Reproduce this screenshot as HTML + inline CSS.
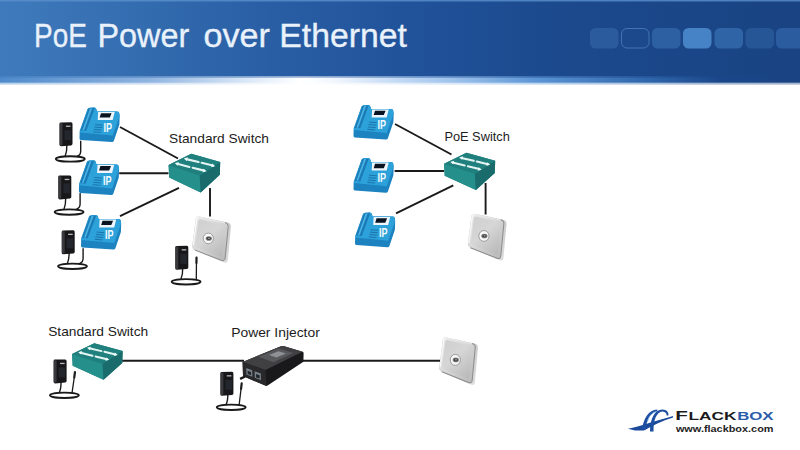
<!DOCTYPE html>
<html><head><meta charset="utf-8"><title>PoE Power over Ethernet</title>
<style>
html,body{margin:0;padding:0;background:#fff;}
body{width:800px;height:450px;overflow:hidden;position:relative;font-family:"Liberation Sans",sans-serif;}
svg{position:absolute;left:0;top:0;display:block;}
</style></head><body>
<svg width="800" height="450" viewBox="0 0 800 450">
<defs>
<linearGradient id="hg" x1="0" y1="0" x2="1" y2="0">
<stop offset="0" stop-color="#3f7bbc"/><stop offset="0.34" stop-color="#295ea4"/><stop offset="0.5" stop-color="#21539b"/><stop offset="0.68" stop-color="#1c4a8e"/><stop offset="1" stop-color="#194382"/>
</linearGradient>
<linearGradient id="hb" x1="0" y1="0" x2="1" y2="0">
<stop offset="0" stop-color="#4e8acb"/><stop offset="0.1875" stop-color="#8fb4e0"/><stop offset="0.3125" stop-color="#dce9f8"/><stop offset="0.375" stop-color="#ffffff"/><stop offset="0.4125" stop-color="#f4f8fe"/><stop offset="0.5" stop-color="#c0d8f4"/><stop offset="0.5625" stop-color="#a0c4ec"/><stop offset="0.67" stop-color="#5b95d5"/><stop offset="0.81" stop-color="#2f66ac"/><stop offset="0.9" stop-color="#1b478a"/><stop offset="1" stop-color="#194382"/>
</linearGradient>
<linearGradient id="hbv" x1="0" y1="0" x2="0" y2="1">
<stop offset="0" stop-color="#fff" stop-opacity="0"/><stop offset="1" stop-color="#fff" stop-opacity="1"/>
</linearGradient>
<linearGradient id="hbt" x1="0" y1="0" x2="0" y2="1">
<stop offset="0" stop-color="#fff"/><stop offset="1" stop-color="#000"/>
</linearGradient>
<mask id="mt" maskUnits="userSpaceOnUse" x="0" y="76.5" width="800" height="1.6"><rect x="0" y="76.5" width="800" height="1.6" fill="url(#hbt)"/></mask>
<linearGradient id="apg" x1="0" y1="0" x2="1" y2="1">
<stop offset="0" stop-color="#ececec"/><stop offset="0.45" stop-color="#d8d8d8"/><stop offset="1" stop-color="#b6b6b6"/>
</linearGradient>
<linearGradient id="api" x1="0.2" y1="0" x2="0.9" y2="1">
<stop offset="0" stop-color="#d0d0d0"/><stop offset="0.4" stop-color="#d6d6d6"/><stop offset="1" stop-color="#b8b8b8"/>
</linearGradient>
<linearGradient id="aps" x1="0" y1="0" x2="1" y2="1">
<stop offset="0" stop-color="#c8c8c8"/><stop offset="0.6" stop-color="#cdcdcd"/><stop offset="1" stop-color="#dedede"/>
</linearGradient>
</defs>
<rect x="0" y="0" width="800" height="450" fill="#ffffff"/>
<rect x="0" y="0" width="800" height="77.5" fill="url(#hg)"/>
<rect x="0" y="0" width="800" height="1.5" fill="#5a90cc" opacity="0.8"/>
<rect x="0" y="76.5" width="800" height="8" fill="url(#hb)"/>
<rect x="0" y="76.5" width="800" height="1.6" fill="url(#hg)" mask="url(#mt)"/>
<rect x="0" y="82" width="800" height="2.5" fill="url(#hbv)"/>
<rect x="590" y="28" width="28.5" height="20.5" rx="5.5" fill="#2b5b9c"/>
<rect x="621.5" y="28.5" width="27.5" height="19.5" rx="5.5" fill="#1c498b" stroke="#4174b6" stroke-width="1"/>
<rect x="652" y="28" width="28.5" height="20.5" rx="5.5" fill="#2d60a3"/>
<rect x="683" y="28" width="28.5" height="20.5" rx="5.5" fill="#4683c6"/>
<rect x="714.5" y="28" width="28.5" height="20.5" rx="5.5" fill="#2f64a7"/>
<rect x="745.5" y="28" width="28.5" height="20.5" rx="5.5" fill="#275697"/>
<rect x="776" y="28" width="28.5" height="20.5" rx="5.5" fill="#2b5c9f"/>

<text y="47" font-family="'Liberation Sans',sans-serif" font-size="33.5" fill="#e9f1fb" stroke="#e9f1fb" stroke-width="0.35"><tspan x="34.03" textLength="52.79" lengthAdjust="spacingAndGlyphs">PoE</tspan> <tspan x="97.47" textLength="91.83" lengthAdjust="spacingAndGlyphs">Power</tspan> <tspan x="203.53" textLength="66.43" lengthAdjust="spacingAndGlyphs">over</tspan> <tspan x="279.3" textLength="127.61" lengthAdjust="spacingAndGlyphs">Ethernet</tspan></text>

<g stroke="#1a1a1a" stroke-width="1.9" fill="none">
<path d="M120,127 L178,158.5"/>
<path d="M119.2,173.2 L168.5,173.2"/>
<path d="M120,216.1 L179,187.8"/>
<path d="M210,188 L210,216.5"/>
<path d="M395,124 L451.5,154.5"/>
<path d="M394.6,171 L444,171"/>
<path d="M396,213.4 L453.3,185.4"/>
<path d="M485.6,183 L485.6,214.5"/>
<path d="M122,360.8 L244,360.8"/>
<path d="M303,360.8 L440.5,360.8"/>
</g>

<g transform="translate(59.5,122.2)" fill="none" stroke-linecap="round">
<ellipse cx="10.8" cy="36.7" rx="14.4" ry="2.7" stroke="#1a1a1a" stroke-width="1.9"/>
<path d="M7.4,22 Q7.6,29 5.6,34.1" stroke="#1a1a1a" stroke-width="1.4"/>
<path d="M18,33.900000000000006 Q21.2,32.7 21.2,28.700000000000003 L21.2,19" stroke="#1a1a1a" stroke-width="1.4"/>
<path d="M1.4,0.2 L11.6,0 Q13,0 13,1.6 L13,21.6 Q13,23 11.6,23.2 L1.6,24 Q0,24 0,22.4 L0,1.6 Q0,0.2 1.4,0.2 Z" fill="#17171a" stroke="none"/>
<rect x="0.2" y="0.8" width="2.8" height="22.4" rx="1" fill="#3a3a3e" stroke="none"/>
<rect x="6.4" y="3.4" width="4.6" height="1.3" fill="#b8b8bc" stroke="none"/>
<rect x="5" y="8" width="6.5" height="10" fill="#23262c" stroke="none"/>
</g>
<g transform="translate(58.3,175.4)" fill="none" stroke-linecap="round">
<ellipse cx="10.8" cy="36.7" rx="14.4" ry="2.7" stroke="#1a1a1a" stroke-width="1.9"/>
<path d="M7.4,22 Q7.6,29 5.6,34.1" stroke="#1a1a1a" stroke-width="1.4"/>
<path d="M18,33.900000000000006 Q21.8,32.7 21.8,28.700000000000003 L21.8,18" stroke="#1a1a1a" stroke-width="1.4"/>
<path d="M1.4,0.2 L11.6,0 Q13,0 13,1.6 L13,21.6 Q13,23 11.6,23.2 L1.6,24 Q0,24 0,22.4 L0,1.6 Q0,0.2 1.4,0.2 Z" fill="#17171a" stroke="none"/>
<rect x="0.2" y="0.8" width="2.8" height="22.4" rx="1" fill="#3a3a3e" stroke="none"/>
<rect x="6.4" y="3.4" width="4.6" height="1.3" fill="#b8b8bc" stroke="none"/>
<rect x="5" y="8" width="6.5" height="10" fill="#23262c" stroke="none"/>
</g>
<g transform="translate(61.7,230.3)" fill="none" stroke-linecap="round">
<ellipse cx="10.8" cy="36" rx="14.4" ry="2.7" stroke="#1a1a1a" stroke-width="1.9"/>
<path d="M7.4,22 Q7.6,29 5.6,33.4" stroke="#1a1a1a" stroke-width="1.4"/>
<path d="M18,33.2 Q21.4,32 21.4,28 L21.4,18.5" stroke="#1a1a1a" stroke-width="1.4"/>
<path d="M1.4,0.2 L11.6,0 Q13,0 13,1.6 L13,21.6 Q13,23 11.6,23.2 L1.6,24 Q0,24 0,22.4 L0,1.6 Q0,0.2 1.4,0.2 Z" fill="#17171a" stroke="none"/>
<rect x="0.2" y="0.8" width="2.8" height="22.4" rx="1" fill="#3a3a3e" stroke="none"/>
<rect x="6.4" y="3.4" width="4.6" height="1.3" fill="#b8b8bc" stroke="none"/>
<rect x="5" y="8" width="6.5" height="10" fill="#23262c" stroke="none"/>
</g>
<g transform="translate(78.5,106.8)">
<path d="M9,2.4 Q9.6,0.9 11.4,0.9 L15.8,0.6 Q17.4,0.7 17.9,2.4 L18.6,4.7 L39,4.7 Q40.4,4.8 40.7,6.2 L41.2,9 L40.9,17.8 L35.4,34 Q34.8,35.5 33.2,35.3 L2.4,33.2 Q1,33 1,31.6 L1.2,24 Z" fill="#1c83c0"/>
<path d="M9,2.4 Q9.6,0.9 11.4,0.9 L15.8,0.6 Q17.4,0.7 17.9,2.4 L18.6,4.7 L39,4.7 Q40.4,4.8 40.7,6.2 L41,9.4 L34.2,28.8 L1.3,25.6 Z" fill="#2da1d9"/>
<path d="M10,1.7 L16.2,1.3 L7.8,24 L2.2,23.4 Z" fill="#1a7ab6"/>
<path d="M11.6,1.7 L13.6,1.6 L5.6,23.4 L4,23.2 Z" fill="#49b3e4"/>
<path d="M19.6,5.2 L36.2,5.2 L34.2,13.2 L19.2,13.2 Z" fill="#eef6fb"/>
<path d="M22.5,6.4 L33.1,6.4 L31.3,10.8 L21.2,10.8 Z" fill="#0a1420"/>
<g stroke="#1a6ea6" stroke-width="0.9"><path d="M16.6,17.8 L24.4,18.4 M16,20.2 L23.8,20.8 M15.4,22.6 L23.2,23.2 M14.8,25 L22.6,25.6"/></g>
<text x="25" y="24.9" font-family="'Liberation Sans',sans-serif" font-weight="bold" font-size="13.7" fill="#f4fbff" transform="translate(25,0) scale(0.66,1) translate(-25,0)">IP</text>
</g>
<g transform="translate(77.9,159.7)">
<path d="M9,2.4 Q9.6,0.9 11.4,0.9 L15.8,0.6 Q17.4,0.7 17.9,2.4 L18.6,4.7 L39,4.7 Q40.4,4.8 40.7,6.2 L41.2,9 L40.9,17.8 L35.4,34 Q34.8,35.5 33.2,35.3 L2.4,33.2 Q1,33 1,31.6 L1.2,24 Z" fill="#1c83c0"/>
<path d="M9,2.4 Q9.6,0.9 11.4,0.9 L15.8,0.6 Q17.4,0.7 17.9,2.4 L18.6,4.7 L39,4.7 Q40.4,4.8 40.7,6.2 L41,9.4 L34.2,28.8 L1.3,25.6 Z" fill="#2da1d9"/>
<path d="M10,1.7 L16.2,1.3 L7.8,24 L2.2,23.4 Z" fill="#1a7ab6"/>
<path d="M11.6,1.7 L13.6,1.6 L5.6,23.4 L4,23.2 Z" fill="#49b3e4"/>
<path d="M19.6,5.2 L36.2,5.2 L34.2,13.2 L19.2,13.2 Z" fill="#eef6fb"/>
<path d="M22.5,6.4 L33.1,6.4 L31.3,10.8 L21.2,10.8 Z" fill="#0a1420"/>
<g stroke="#1a6ea6" stroke-width="0.9"><path d="M16.6,17.8 L24.4,18.4 M16,20.2 L23.8,20.8 M15.4,22.6 L23.2,23.2 M14.8,25 L22.6,25.6"/></g>
<text x="25" y="24.9" font-family="'Liberation Sans',sans-serif" font-weight="bold" font-size="13.7" fill="#f4fbff" transform="translate(25,0) scale(0.66,1) translate(-25,0)">IP</text>
</g>
<g transform="translate(80,214.3)">
<path d="M9,2.4 Q9.6,0.9 11.4,0.9 L15.8,0.6 Q17.4,0.7 17.9,2.4 L18.6,4.7 L39,4.7 Q40.4,4.8 40.7,6.2 L41.2,9 L40.9,17.8 L35.4,34 Q34.8,35.5 33.2,35.3 L2.4,33.2 Q1,33 1,31.6 L1.2,24 Z" fill="#1c83c0"/>
<path d="M9,2.4 Q9.6,0.9 11.4,0.9 L15.8,0.6 Q17.4,0.7 17.9,2.4 L18.6,4.7 L39,4.7 Q40.4,4.8 40.7,6.2 L41,9.4 L34.2,28.8 L1.3,25.6 Z" fill="#2da1d9"/>
<path d="M10,1.7 L16.2,1.3 L7.8,24 L2.2,23.4 Z" fill="#1a7ab6"/>
<path d="M11.6,1.7 L13.6,1.6 L5.6,23.4 L4,23.2 Z" fill="#49b3e4"/>
<path d="M19.6,5.2 L36.2,5.2 L34.2,13.2 L19.2,13.2 Z" fill="#eef6fb"/>
<path d="M22.5,6.4 L33.1,6.4 L31.3,10.8 L21.2,10.8 Z" fill="#0a1420"/>
<g stroke="#1a6ea6" stroke-width="0.9"><path d="M16.6,17.8 L24.4,18.4 M16,20.2 L23.8,20.8 M15.4,22.6 L23.2,23.2 M14.8,25 L22.6,25.6"/></g>
<text x="25" y="24.9" font-family="'Liberation Sans',sans-serif" font-weight="bold" font-size="13.7" fill="#f4fbff" transform="translate(25,0) scale(0.66,1) translate(-25,0)">IP</text>
</g>
<g transform="translate(168.2,153.7) scale(1.0,1.02)">
<path d="M0.4,11.2 L23,0 L52,8.1 L51.6,20.6 L32.5,38 L1,23.4 Z" fill="#1f7f7e"/>
<path d="M0.4,11.2 L31.5,21.4 L32.5,38 L1,23.4 Z" fill="#258f8c"/>
<path d="M31.5,21.4 L52,8.1 L51.6,20.6 L32.5,38 Z" fill="#1a6c6c"/>
<path d="M0.4,11.2 L23,0 L52,8.1 L31.5,21.4 Z" fill="#1f807e"/>
<g stroke="#e4f4f3" stroke-width="2.1" stroke-linecap="round" fill="none">
<path d="M18,5.3 L30.4,8.2"/><path d="M33.4,8.9 L44.6,11.6"/>
<path d="M9,9.9 L21.2,13"/><path d="M24.4,13.8 L36,16.6"/>
</g>
<g fill="#eef9f8">
<path d="M15.6,4.7 L19.6,3.6 L18.6,7.2 Z"/><path d="M47,12.2 L43,13.3 L44,9.7 Z"/>
<path d="M6.6,9.3 L10.6,8.2 L9.6,11.8 Z"/><path d="M38.4,17.2 L34.4,18.3 L35.4,14.7 Z"/>
</g>
</g>
<g transform="translate(175.3,245.8)" fill="none" stroke-linecap="round">
<ellipse cx="10.8" cy="36" rx="14.4" ry="2.7" stroke="#1a1a1a" stroke-width="1.9"/>
<path d="M7.4,22 Q7.6,29 5.6,33.4" stroke="#1a1a1a" stroke-width="1.4"/>
<path d="M21,33 L21.144,17.8" stroke="#1a1a1a" stroke-width="1.3"/><path d="M21.148,17.3 L21.2,11.8" stroke="#1c1c1c" stroke-width="2.2"/>
<path d="M1.4,0.2 L11.6,0 Q13,0 13,1.6 L13,21.6 Q13,23 11.6,23.2 L1.6,24 Q0,24 0,22.4 L0,1.6 Q0,0.2 1.4,0.2 Z" fill="#17171a" stroke="none"/>
<rect x="0.2" y="0.8" width="2.8" height="22.4" rx="1" fill="#3a3a3e" stroke="none"/>
<rect x="6.4" y="3.4" width="4.6" height="1.3" fill="#b8b8bc" stroke="none"/>
<rect x="5" y="8" width="6.5" height="10" fill="#23262c" stroke="none"/>
</g>
<g transform="translate(192,216) scale(1,1)">
<path d="M7.4,0.6 Q4.2,0.2 3.8,3.2 L0.3,29.6 Q0,32.8 2.8,34 L31.6,46.2 Q35.4,47.8 35.9,43.8 L38.9,11 Q39.2,7.2 35.6,6.5 Z" fill="url(#aps)"/>
<path d="M7.4,0.6 Q4.2,0.2 3.8,3.2 L0.3,29.6 Q0,32.8 2.8,34 L29.4,44.4 Q32.8,45.6 33.2,42.2 L36.2,10.8 Q36.6,7.2 33,6.4 Z" fill="url(#apg)"/>
<path d="M2.8,34 L29.4,44.4 Q32.8,45.6 33.2,42.2 L36.2,10.8 Q36.6,7.2 33,6.4" fill="none" stroke="#8c8c8c" stroke-width="1"/>
<path d="M8.6,3.4 Q6.6,3.2 6.3,5 L3.4,28.6 Q3.2,30.6 5,31.4 L28,40.6 Q30,41.4 30.3,39.2 L33,11.8 Q33.2,9.6 31,9 Z" fill="url(#api)"/>
<path d="M7.4,1.3 Q5,1.1 4.7,3.4 L1.3,29.4" fill="none" stroke="#fbfbfb" stroke-width="1.2" opacity="0.9"/>
<path d="M7.4,1.2 L33,7" fill="none" stroke="#f0f0f0" stroke-width="0.9" opacity="0.7"/>
<ellipse cx="16.3" cy="22.4" rx="5.1" ry="5.3" fill="#f8f8f8" stroke="#8a8a8a" stroke-width="0.8"/>
<ellipse cx="16.8" cy="22.5" rx="3.1" ry="2.3" fill="#808080"/>
<ellipse cx="16.8" cy="22.5" rx="2.2" ry="1.4" fill="#404040"/>
<ellipse cx="17" cy="22.3" rx="0.9" ry="0.5" fill="#d0d0d0"/>
</g>
<g transform="translate(352.5,104.3)">
<path d="M9,2.4 Q9.6,0.9 11.4,0.9 L15.8,0.6 Q17.4,0.7 17.9,2.4 L18.6,4.7 L39,4.7 Q40.4,4.8 40.7,6.2 L41.2,9 L40.9,17.8 L35.4,34 Q34.8,35.5 33.2,35.3 L2.4,33.2 Q1,33 1,31.6 L1.2,24 Z" fill="#1c83c0"/>
<path d="M9,2.4 Q9.6,0.9 11.4,0.9 L15.8,0.6 Q17.4,0.7 17.9,2.4 L18.6,4.7 L39,4.7 Q40.4,4.8 40.7,6.2 L41,9.4 L34.2,28.8 L1.3,25.6 Z" fill="#2da1d9"/>
<path d="M10,1.7 L16.2,1.3 L7.8,24 L2.2,23.4 Z" fill="#1a7ab6"/>
<path d="M11.6,1.7 L13.6,1.6 L5.6,23.4 L4,23.2 Z" fill="#49b3e4"/>
<path d="M19.6,5.2 L36.2,5.2 L34.2,13.2 L19.2,13.2 Z" fill="#eef6fb"/>
<path d="M22.5,6.4 L33.1,6.4 L31.3,10.8 L21.2,10.8 Z" fill="#0a1420"/>
<g stroke="#1a6ea6" stroke-width="0.9"><path d="M16.6,17.8 L24.4,18.4 M16,20.2 L23.8,20.8 M15.4,22.6 L23.2,23.2 M14.8,25 L22.6,25.6"/></g>
<text x="25" y="24.9" font-family="'Liberation Sans',sans-serif" font-weight="bold" font-size="13.7" fill="#f4fbff" transform="translate(25,0) scale(0.66,1) translate(-25,0)">IP</text>
</g>
<g transform="translate(352.5,157.4)">
<path d="M9,2.4 Q9.6,0.9 11.4,0.9 L15.8,0.6 Q17.4,0.7 17.9,2.4 L18.6,4.7 L39,4.7 Q40.4,4.8 40.7,6.2 L41.2,9 L40.9,17.8 L35.4,34 Q34.8,35.5 33.2,35.3 L2.4,33.2 Q1,33 1,31.6 L1.2,24 Z" fill="#1c83c0"/>
<path d="M9,2.4 Q9.6,0.9 11.4,0.9 L15.8,0.6 Q17.4,0.7 17.9,2.4 L18.6,4.7 L39,4.7 Q40.4,4.8 40.7,6.2 L41,9.4 L34.2,28.8 L1.3,25.6 Z" fill="#2da1d9"/>
<path d="M10,1.7 L16.2,1.3 L7.8,24 L2.2,23.4 Z" fill="#1a7ab6"/>
<path d="M11.6,1.7 L13.6,1.6 L5.6,23.4 L4,23.2 Z" fill="#49b3e4"/>
<path d="M19.6,5.2 L36.2,5.2 L34.2,13.2 L19.2,13.2 Z" fill="#eef6fb"/>
<path d="M22.5,6.4 L33.1,6.4 L31.3,10.8 L21.2,10.8 Z" fill="#0a1420"/>
<g stroke="#1a6ea6" stroke-width="0.9"><path d="M16.6,17.8 L24.4,18.4 M16,20.2 L23.8,20.8 M15.4,22.6 L23.2,23.2 M14.8,25 L22.6,25.6"/></g>
<text x="25" y="24.9" font-family="'Liberation Sans',sans-serif" font-weight="bold" font-size="13.7" fill="#f4fbff" transform="translate(25,0) scale(0.66,1) translate(-25,0)">IP</text>
</g>
<g transform="translate(354,211.9)">
<path d="M9,2.4 Q9.6,0.9 11.4,0.9 L15.8,0.6 Q17.4,0.7 17.9,2.4 L18.6,4.7 L39,4.7 Q40.4,4.8 40.7,6.2 L41.2,9 L40.9,17.8 L35.4,34 Q34.8,35.5 33.2,35.3 L2.4,33.2 Q1,33 1,31.6 L1.2,24 Z" fill="#1c83c0"/>
<path d="M9,2.4 Q9.6,0.9 11.4,0.9 L15.8,0.6 Q17.4,0.7 17.9,2.4 L18.6,4.7 L39,4.7 Q40.4,4.8 40.7,6.2 L41,9.4 L34.2,28.8 L1.3,25.6 Z" fill="#2da1d9"/>
<path d="M10,1.7 L16.2,1.3 L7.8,24 L2.2,23.4 Z" fill="#1a7ab6"/>
<path d="M11.6,1.7 L13.6,1.6 L5.6,23.4 L4,23.2 Z" fill="#49b3e4"/>
<path d="M19.6,5.2 L36.2,5.2 L34.2,13.2 L19.2,13.2 Z" fill="#eef6fb"/>
<path d="M22.5,6.4 L33.1,6.4 L31.3,10.8 L21.2,10.8 Z" fill="#0a1420"/>
<g stroke="#1a6ea6" stroke-width="0.9"><path d="M16.6,17.8 L24.4,18.4 M16,20.2 L23.8,20.8 M15.4,22.6 L23.2,23.2 M14.8,25 L22.6,25.6"/></g>
<text x="25" y="24.9" font-family="'Liberation Sans',sans-serif" font-weight="bold" font-size="13.7" fill="#f4fbff" transform="translate(25,0) scale(0.66,1) translate(-25,0)">IP</text>
</g>
<g transform="translate(443.7,152.8) scale(0.99,0.98)">
<path d="M0.4,11.2 L23,0 L52,8.1 L51.6,20.6 L32.5,38 L1,23.4 Z" fill="#1f7f7e"/>
<path d="M0.4,11.2 L31.5,21.4 L32.5,38 L1,23.4 Z" fill="#258f8c"/>
<path d="M31.5,21.4 L52,8.1 L51.6,20.6 L32.5,38 Z" fill="#1a6c6c"/>
<path d="M0.4,11.2 L23,0 L52,8.1 L31.5,21.4 Z" fill="#1f807e"/>
<g stroke="#e4f4f3" stroke-width="2.1" stroke-linecap="round" fill="none">
<path d="M18,5.3 L30.4,8.2"/><path d="M33.4,8.9 L44.6,11.6"/>
<path d="M9,9.9 L21.2,13"/><path d="M24.4,13.8 L36,16.6"/>
</g>
<g fill="#eef9f8">
<path d="M15.6,4.7 L19.6,3.6 L18.6,7.2 Z"/><path d="M47,12.2 L43,13.3 L44,9.7 Z"/>
<path d="M6.6,9.3 L10.6,8.2 L9.6,11.8 Z"/><path d="M38.4,17.2 L34.4,18.3 L35.4,14.7 Z"/>
</g>
</g>
<g transform="translate(467.6,213.2) scale(1,1.015)">
<path d="M7.4,0.6 Q4.2,0.2 3.8,3.2 L0.3,29.6 Q0,32.8 2.8,34 L31.6,46.2 Q35.4,47.8 35.9,43.8 L38.9,11 Q39.2,7.2 35.6,6.5 Z" fill="url(#aps)"/>
<path d="M7.4,0.6 Q4.2,0.2 3.8,3.2 L0.3,29.6 Q0,32.8 2.8,34 L29.4,44.4 Q32.8,45.6 33.2,42.2 L36.2,10.8 Q36.6,7.2 33,6.4 Z" fill="url(#apg)"/>
<path d="M2.8,34 L29.4,44.4 Q32.8,45.6 33.2,42.2 L36.2,10.8 Q36.6,7.2 33,6.4" fill="none" stroke="#8c8c8c" stroke-width="1"/>
<path d="M8.6,3.4 Q6.6,3.2 6.3,5 L3.4,28.6 Q3.2,30.6 5,31.4 L28,40.6 Q30,41.4 30.3,39.2 L33,11.8 Q33.2,9.6 31,9 Z" fill="url(#api)"/>
<path d="M7.4,1.3 Q5,1.1 4.7,3.4 L1.3,29.4" fill="none" stroke="#fbfbfb" stroke-width="1.2" opacity="0.9"/>
<path d="M7.4,1.2 L33,7" fill="none" stroke="#f0f0f0" stroke-width="0.9" opacity="0.7"/>
<ellipse cx="16.3" cy="22.4" rx="5.1" ry="5.3" fill="#f8f8f8" stroke="#8a8a8a" stroke-width="0.8"/>
<ellipse cx="16.8" cy="22.5" rx="3.1" ry="2.3" fill="#808080"/>
<ellipse cx="16.8" cy="22.5" rx="2.2" ry="1.4" fill="#404040"/>
<ellipse cx="17" cy="22.3" rx="0.9" ry="0.5" fill="#d0d0d0"/>
</g>
<g transform="translate(53.6,359.4)" fill="none" stroke-linecap="round">
<ellipse cx="10.8" cy="35.9" rx="14.4" ry="2.7" stroke="#1a1a1a" stroke-width="1.9"/>
<path d="M7.4,22 Q7.6,29 5.6,33.3" stroke="#1a1a1a" stroke-width="1.4"/>
<path d="M18.5,32.9 L20.587999999999997,18.6" stroke="#1a1a1a" stroke-width="1.3"/><path d="M20.645999999999997,18.1 L21.4,12.6" stroke="#1c1c1c" stroke-width="2.2"/>
<path d="M1.4,0.2 L11.6,0 Q13,0 13,1.6 L13,21.6 Q13,23 11.6,23.2 L1.6,24 Q0,24 0,22.4 L0,1.6 Q0,0.2 1.4,0.2 Z" fill="#17171a" stroke="none"/>
<rect x="0.2" y="0.8" width="2.8" height="22.4" rx="1" fill="#3a3a3e" stroke="none"/>
<rect x="6.4" y="3.4" width="4.6" height="1.3" fill="#b8b8bc" stroke="none"/>
<rect x="5" y="8" width="6.5" height="10" fill="#23262c" stroke="none"/>
</g>
<g transform="translate(71.7,343.2) scale(0.98,0.965)">
<path d="M0.4,11.2 L23,0 L52,8.1 L51.6,20.6 L32.5,38 L1,23.4 Z" fill="#1f7f7e"/>
<path d="M0.4,11.2 L31.5,21.4 L32.5,38 L1,23.4 Z" fill="#258f8c"/>
<path d="M31.5,21.4 L52,8.1 L51.6,20.6 L32.5,38 Z" fill="#1a6c6c"/>
<path d="M0.4,11.2 L23,0 L52,8.1 L31.5,21.4 Z" fill="#1f807e"/>
<g stroke="#e4f4f3" stroke-width="2.1" stroke-linecap="round" fill="none">
<path d="M18,5.3 L30.4,8.2"/><path d="M33.4,8.9 L44.6,11.6"/>
<path d="M9,9.9 L21.2,13"/><path d="M24.4,13.8 L36,16.6"/>
</g>
<g fill="#eef9f8">
<path d="M15.6,4.7 L19.6,3.6 L18.6,7.2 Z"/><path d="M47,12.2 L43,13.3 L44,9.7 Z"/>
<path d="M6.6,9.3 L10.6,8.2 L9.6,11.8 Z"/><path d="M38.4,17.2 L34.4,18.3 L35.4,14.7 Z"/>
</g>
</g>
<g transform="translate(220.4,371.8)" fill="none" stroke-linecap="round">
<ellipse cx="10.8" cy="35.5" rx="14.4" ry="2.7" stroke="#1a1a1a" stroke-width="1.9"/>
<path d="M7.4,22 Q7.6,29 5.6,32.9" stroke="#1a1a1a" stroke-width="1.4"/>
<path d="M18.8,32.5 L20.6,17.5" stroke="#1a1a1a" stroke-width="1.3"/><path d="M20.650000000000002,17.0 L21.3,11.5" stroke="#1c1c1c" stroke-width="2.2"/>
<path d="M1.4,0.2 L11.6,0 Q13,0 13,1.6 L13,21.6 Q13,23 11.6,23.2 L1.6,24 Q0,24 0,22.4 L0,1.6 Q0,0.2 1.4,0.2 Z" fill="#17171a" stroke="none"/>
<rect x="0.2" y="0.8" width="2.8" height="22.4" rx="1" fill="#3a3a3e" stroke="none"/>
<rect x="6.4" y="3.4" width="4.6" height="1.3" fill="#b8b8bc" stroke="none"/>
<rect x="5" y="8" width="6.5" height="10" fill="#23262c" stroke="none"/>
</g>
<g transform="translate(243,346.6)">
<path d="M-0.4,15.4 L38,-0.4 Q39.2,-0.9 40.4,-0.5 L59.6,5.2 Q60.6,5.6 60.6,6.6 L60.4,15.2 L24.6,38.8 Q23.4,39.6 22.2,39 L1,30 Q0,29.6 0,28.6 Z" fill="#19191b"/>
<path d="M-0.4,15.4 L38,-0.4 Q39.2,-0.9 40.4,-0.5 L59.6,5.2 L22.4,23.4 Z" fill="#404043"/>
<path d="M-0.4,15.4 L22.4,23.4 L23.4,39.4 Q22.8,39.4 22.2,39 L1,30 Q0,29.6 0,28.6 Z" fill="#29292b"/>
<path d="M15.6,10.2 L35.4,2 L50.6,6.4 L30.4,15.6 Z" fill="#58595d"/>
<path d="M26,8.4 L35.4,4.6 L43,6.8 L33.4,11 Z" fill="#8e9196"/>
<path d="M3.2,21.4 L9.2,23.6 L9.4,30.2 L3.4,27.8 Z" fill="#76818a"/>
<path d="M11.6,24.6 L17.8,26.8 L18,33.6 L11.8,31.2 Z" fill="#76818a"/>
<path d="M4.6,24.2 L8,25.4 L8.1,28.6 L4.7,27.4 Z" fill="#23262a"/>
<path d="M13,27.4 L16.6,28.6 L16.7,32 L13.1,30.8 Z" fill="#23262a"/>
<path d="M-3.4,31.2 L1.6,29 L2.6,31 L-2.4,33.4 Z" fill="#1a1a1c"/>
</g>
<g transform="translate(439,336.8) scale(1,1.03)">
<path d="M7.4,0.6 Q4.2,0.2 3.8,3.2 L0.3,29.6 Q0,32.8 2.8,34 L31.6,46.2 Q35.4,47.8 35.9,43.8 L38.9,11 Q39.2,7.2 35.6,6.5 Z" fill="url(#aps)"/>
<path d="M7.4,0.6 Q4.2,0.2 3.8,3.2 L0.3,29.6 Q0,32.8 2.8,34 L29.4,44.4 Q32.8,45.6 33.2,42.2 L36.2,10.8 Q36.6,7.2 33,6.4 Z" fill="url(#apg)"/>
<path d="M2.8,34 L29.4,44.4 Q32.8,45.6 33.2,42.2 L36.2,10.8 Q36.6,7.2 33,6.4" fill="none" stroke="#8c8c8c" stroke-width="1"/>
<path d="M8.6,3.4 Q6.6,3.2 6.3,5 L3.4,28.6 Q3.2,30.6 5,31.4 L28,40.6 Q30,41.4 30.3,39.2 L33,11.8 Q33.2,9.6 31,9 Z" fill="url(#api)"/>
<path d="M7.4,1.3 Q5,1.1 4.7,3.4 L1.3,29.4" fill="none" stroke="#fbfbfb" stroke-width="1.2" opacity="0.9"/>
<path d="M7.4,1.2 L33,7" fill="none" stroke="#f0f0f0" stroke-width="0.9" opacity="0.7"/>
<ellipse cx="16.3" cy="22.4" rx="5.1" ry="5.3" fill="#f8f8f8" stroke="#8a8a8a" stroke-width="0.8"/>
<ellipse cx="16.8" cy="22.5" rx="3.1" ry="2.3" fill="#808080"/>
<ellipse cx="16.8" cy="22.5" rx="2.2" ry="1.4" fill="#404040"/>
<ellipse cx="17" cy="22.3" rx="0.9" ry="0.5" fill="#d0d0d0"/>
</g>
<g font-family="'Liberation Sans',sans-serif" font-size="13.5" fill="#1c1c1c">
<text x="169" y="143" textLength="100" lengthAdjust="spacingAndGlyphs">Standard Switch</text>
<text x="444.4" y="141.1" textLength="65.4" lengthAdjust="spacingAndGlyphs">PoE Switch</text>
<text x="48.2" y="335.5" textLength="100" lengthAdjust="spacingAndGlyphs">Standard Switch</text>
<text x="231.2" y="336.7" textLength="88.6" lengthAdjust="spacingAndGlyphs">Power Injector</text>
</g>
<!-- logo -->
<g>
<path d="M628,428.8 C640,426.4 655,421 673,416 L673,417.6 C662,421 652,426 644,430.6 L635,430.4 Z" fill="#1b4a9c"/>
<path d="M642,429.4 L645.6,429.4 C646.6,420 650,412.6 657.4,411.2 L657.2,409.6 C648.6,409.8 643.6,418.6 642,429.4 Z" fill="#1d4fa2"/>
<path d="M650,431.6 L653.6,431.6 C653.2,420.6 656.4,411.8 662.4,411.4 C665.6,411.6 667,413.6 666.6,415.6 L668.4,415.4 C669,412 666.6,409.6 662.4,409.4 C654.4,409.6 650,419 650,431.6 Z" fill="#1d4fa2"/>
<path d="M647.4,422 C648.6,416.4 652,412.4 656,411.8" fill="none" stroke="#7fb0e6" stroke-width="0.8"/>
</g>
<text x="675.2" y="419.9" font-family="'Liberation Sans',sans-serif" font-weight="bold" font-size="10" fill="#1b1b1b"><tspan font-size="13" textLength="12.6" lengthAdjust="spacingAndGlyphs">F</tspan><tspan x="688.4" textLength="48" lengthAdjust="spacingAndGlyphs">LACK</tspan><tspan x="737.2" fill="#2a5caa" textLength="36.4" lengthAdjust="spacingAndGlyphs">BOX</tspan></text>
<text x="675.9" y="431.6" font-family="'Liberation Sans',sans-serif" font-weight="bold" font-size="9.8" fill="#222" textLength="97.6" lengthAdjust="spacingAndGlyphs">www.flackbox.com</text>
</svg>
</body></html>
